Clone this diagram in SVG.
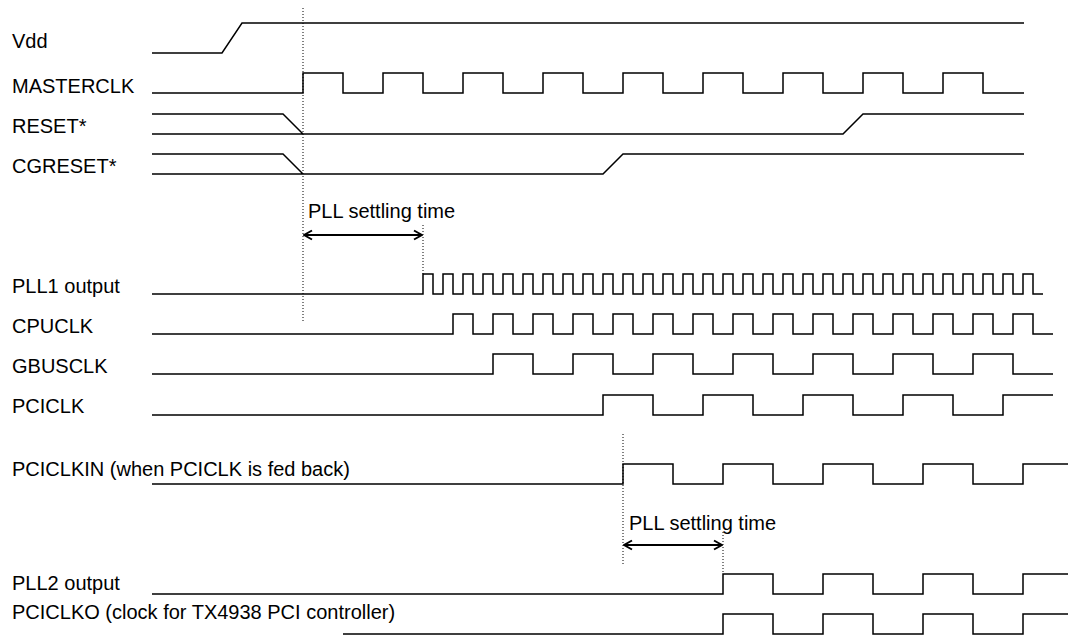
<svg xmlns="http://www.w3.org/2000/svg" width="1069" height="639" viewBox="0 0 1069 639">
<style>
text{font-family:"Liberation Sans",Arial,sans-serif;font-size:20px;fill:#000}
.w{fill:none;stroke:#000;stroke-width:1.5;stroke-linejoin:miter}
.d{fill:none;stroke:#000;stroke-width:1;stroke-dasharray:1,2}
.a{fill:none;stroke:#000;stroke-width:2;marker-start:url(#ah);marker-end:url(#ah)}
</style>
<defs>
<marker id="ah" viewBox="0 0 12 12" refX="11" refY="6" markerWidth="12" markerHeight="12" markerUnits="userSpaceOnUse" orient="auto-start-reverse">
<path d="M3,1.5 L11,6 L3,10.5" fill="none" stroke="#000" stroke-width="2"/>
</marker>
</defs>
<rect width="1069" height="639" fill="#fff"/>
<g id="vdd"><text x="12" y="48">Vdd</text><path class="w" d="M152,53 H222 L242,23 H1024"/></g>
<g id="masterclk"><text x="12" y="93">MASTERCLK</text><path class="w" d="M152,93 H303 v-20 h40 v20 h40 v-20 h40 v20 h40 v-20 h40 v20 h40 v-20 h40 v20 h40 v-20 h40 v20 h40 v-20 h40 v20 h40 v-20 h40 v20 h40 v-20 h40 v20 h40 v-20 h40 v20 H1024"/></g>
<g id="reset"><text x="12" y="133">RESET*</text><path class="w" d="M152,114 H283 L303,134 M152,134 H843 L863,114 H1024"/></g>
<g id="cgreset"><text x="12" y="173">CGRESET*</text><path class="w" d="M152,154 H283 L303,174 M152,174 H603 L623,154 H1024"/></g>
<g id="pll1"><text x="12" y="293">PLL1 output</text><path class="w" d="M152,294 H423 v-20 h10 v20 h10 v-20 h10 v20 h10 v-20 h10 v20 h10 v-20 h10 v20 h10 v-20 h10 v20 h10 v-20 h10 v20 h10 v-20 h10 v20 h10 v-20 h10 v20 h10 v-20 h10 v20 h10 v-20 h10 v20 h10 v-20 h10 v20 h10 v-20 h10 v20 h10 v-20 h10 v20 h10 v-20 h10 v20 h10 v-20 h10 v20 h10 v-20 h10 v20 h10 v-20 h10 v20 h10 v-20 h10 v20 h10 v-20 h10 v20 h10 v-20 h10 v20 h10 v-20 h10 v20 h10 v-20 h10 v20 h10 v-20 h10 v20 h10 v-20 h10 v20 h10 v-20 h10 v20 h10 v-20 h10 v20 h10 v-20 h10 v20 h10 v-20 h10 v20 h10 v-20 h10 v20 h10 v-20 h10 v20 h10 v-20 h10 v20 h10"/></g>
<g id="cpuclk"><text x="12" y="333">CPUCLK</text><path class="w" d="M152,334 H453 v-20 h20 v20 h20 v-20 h20 v20 h20 v-20 h20 v20 h20 v-20 h20 v20 h20 v-20 h20 v20 h20 v-20 h20 v20 h20 v-20 h20 v20 h20 v-20 h20 v20 h20 v-20 h20 v20 h20 v-20 h20 v20 h20 v-20 h20 v20 h20 v-20 h20 v20 h20 v-20 h20 v20 h20 v-20 h20 v20 h20 v-20 h20 v20 h20"/></g>
<g id="gbusclk"><text x="12" y="373">GBUSCLK</text><path class="w" d="M152,374 H493 v-20 h40 v20 h40 v-20 h40 v20 h40 v-20 h40 v20 h40 v-20 h40 v20 h40 v-20 h40 v20 h40 v-20 h40 v20 h40 v-20 h40 v20 h40"/></g>
<g id="pciclk"><text x="12" y="413">PCICLK</text><path class="w" d="M152,415 H603 v-20 h50 v20 h50 v-20 h50 v20 h50 v-20 h50 v20 h50 v-20 h50 v20 h50 v-20 h50"/></g>
<g id="pciclkin"><text x="12" y="476">PCICLKIN (when PCICLK is fed back)</text><path class="w" d="M152,484 H623 v-20 h50 v20 h50 v-20 h50 v20 h50 v-20 h50 v20 h50 v-20 h50 v20 h50 v-20 h45"/></g>
<g id="pll2"><text x="12" y="590">PLL2 output</text><path class="w" d="M152,594 H723 v-20 h50 v20 h50 v-20 h50 v20 h50 v-20 h50 v20 h50 v-20 h45"/></g>
<g id="pciclko"><text x="12" y="619">PCICLKO (clock for TX4938 PCI controller)</text><path class="w" d="M343,634 H723 v-20 h50 v20 h50 v-20 h50 v20 h50 v-20 h50 v20 h50 v-20 h45"/></g>
<g id="connectors">
<path class="d" d="M303,8 V323 M423,225 V274 M623,434 V564 M723,532 V574"/>
<path class="a" d="M304,235 H422"/>
<path class="a" d="M624,545 H722"/>
<text x="308" y="218">PLL settling time</text>
<text x="629" y="530">PLL settling time</text>
</g>
</svg>
